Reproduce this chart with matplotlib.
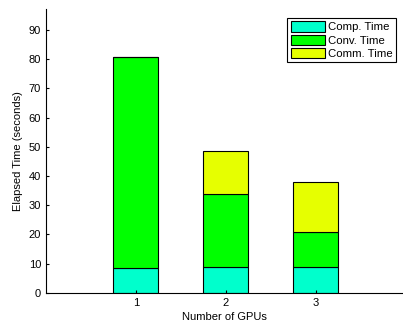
import numpy as np
import matplotlib
matplotlib.use("Agg")
import matplotlib.pyplot as plt

# elapsed time breakdown per GPU count (seconds)
gpus = [1, 2, 3]
comp_time = [8.6, 9.0, 8.8]
conv_time = [72.0, 25.0, 11.9]
comm_time = [0.0, 14.5, 17.2]

plt.rcParams['font.family'] = ['Liberation Sans', 'DejaVu Sans']

fig = plt.figure(figsize=(4.03, 3.24), dpi=100)
ax = fig.add_axes([0.114, 0.096, 0.888, 0.875])

x = np.array(gpus)
comp = np.array(comp_time)
conv = np.array(conv_time)
comm = np.array(comm_time)

kw = dict(width=0.5, edgecolor='black', linewidth=0.8)
ax.bar(x, comp, color='#00ffcc', label='Comp. Time', **kw)
ax.bar(x, conv, bottom=comp, color='#00ff00', label='Conv. Time', **kw)
ax.bar(x, comm, bottom=comp + conv, color='#e6ff00', label='Comm. Time', **kw)

ax.set_xlim(0, 3.98)
ax.set_ylim(0, 97)
ax.set_xticks(gpus)
ax.set_yticks(np.arange(0, 100, 10))
ax.tick_params(direction='in', length=2.5, labelsize=8)
ax.spines['top'].set_visible(False)
ax.spines['right'].set_visible(False)

ax.set_xlabel('Number of GPUs', fontsize=8, labelpad=3)
ax.set_ylabel('Elapsed Time (seconds)', fontsize=8, labelpad=4)

leg = ax.legend(loc='upper right', fontsize=8.2, fancybox=False, framealpha=1,
                edgecolor='black', handlelength=3.0, handleheight=1.0,
                handletextpad=0.3, labelspacing=0.2, borderpad=0.3,
                bbox_to_anchor=(0.995, 0.99))
leg.get_frame().set_linewidth(0.8)

fig.savefig('out.png', dpi=100)
